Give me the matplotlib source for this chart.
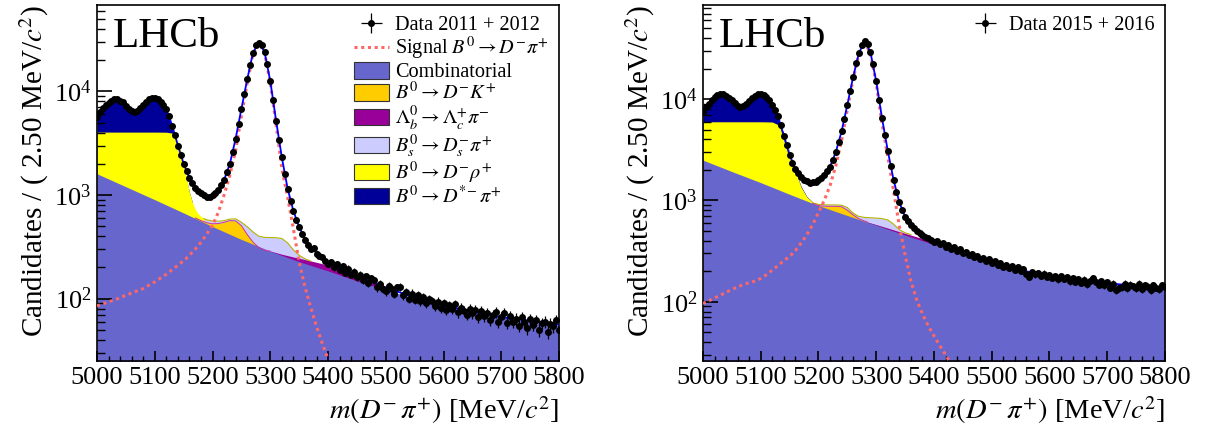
import numpy as np
import matplotlib
matplotlib.use("Agg")
import matplotlib.pyplot as plt
from matplotlib.patches import Patch
from matplotlib.lines import Line2D
from matplotlib.ticker import LogLocator, MultipleLocator, NullFormatter

plt.rcParams['font.family'] = ['Liberation Serif', 'DejaVu Serif']
plt.rcParams['mathtext.fontset'] = 'stix'

# --- data points, one every 5 MeV (counts per 2.5 MeV bin) ---
m_data = np.arange(5000, 5801, 5)

data_run1 = [
    5650, 6250, 6850, 7300, 7750, 8150, 8350, 8400, 8150, 7800,
    7250, 6750, 6450, 6300, 6500, 6850, 7400, 7950, 8350, 8650,
    8600, 8400, 7950, 7450, 6700, 5800, 4650, 3750, 3000, 2450,
    2000, 1700, 1450, 1290, 1160, 1080, 1040, 990, 960, 950,
    1000, 1050, 1120, 1250, 1400, 1650, 2000, 2600, 3500, 4800,
    6800, 9500, 13000, 18000, 23500, 28000, 29500, 28000, 24000, 18500,
    12500, 8200, 5200, 3400, 2300, 1600, 1150, 880, 700, 570,
    490, 420, 370, 330, 300, 310, 270, 255, 250, 230,
    215, 225, 200, 215, 190, 205, 178, 195, 170, 182,
    160, 170, 150, 165, 142, 158, 150, 128, 138, 125,
    118, 132, 125, 112, 128, 130, 108, 115, 100, 112,
    98, 108, 95, 104, 90, 99, 94, 85, 93, 82,
    90, 78, 86, 80, 88, 74, 82, 76, 70, 80,
    72, 78, 66, 76, 68, 73, 62, 70, 74, 60,
    66, 72, 58, 68, 60, 64, 55, 66, 60, 52,
    63, 56, 62, 50, 58, 60, 48, 57, 54, 62,
    50,
]

data_run2 = [
    7500, 8300, 9000, 9700, 10400, 10900, 11200, 11200, 10800, 10300,
    9700, 9100, 8600, 8350, 8500, 8900, 9500, 10200, 10800, 11200,
    11300, 11000, 10500, 9800, 8800, 7900, 6800, 5500, 4300, 3500,
    2800, 2350, 2050, 1850, 1700, 1600, 1550, 1500, 1510, 1530,
    1580, 1670, 1780, 1950, 2150, 2500, 3000, 3800, 4800, 6300,
    8800, 12000, 16500, 22500, 28500, 34500, 37500, 35000, 29000, 22000,
    15000, 9800, 6500, 4400, 3100, 2200, 1600, 1220, 960, 800,
    690, 620, 570, 530, 505, 475, 460, 440, 425, 405,
    390, 400, 370, 380, 345, 360, 330, 345, 315, 330,
    300, 310, 288, 298, 275, 285, 262, 270, 250, 262,
    240, 250, 232, 240, 222, 232, 215, 226, 208, 218,
    200, 210, 188, 176, 198, 186, 193, 180, 190, 176,
    185, 172, 180, 166, 178, 168, 174, 160, 170, 158,
    168, 154, 165, 150, 162, 170, 158, 148, 160, 145,
    156, 138, 150, 130, 136, 140, 150, 136, 148, 142,
    137, 150, 135, 146, 140, 132, 145, 138, 134, 146,
    140,
]

# --- total fit, every 10 MeV ---
m_fit = np.arange(5000, 5801, 10)

total_run1 = [
    5700, 6800, 7800, 8400, 8200, 7300, 6400, 6500, 7400, 8300,
    8600, 8000, 6700, 4700, 3000, 2000, 1450, 1170, 1030, 970,
    1000, 1120, 1400, 2000, 3500, 6800, 13000, 23500, 29500, 24000,
    12500, 5200, 2300, 1150, 700, 490, 380, 315, 275, 245,
    225, 210, 198, 186, 176, 166, 157, 149, 141, 134,
    128, 122, 117, 112, 107, 103, 99, 95, 92, 89,
    86, 83, 81, 79, 77, 75, 73, 71, 69.5, 68,
    66.5, 65, 64, 63, 62, 61, 60, 59, 58, 57,
    56,
]

total_run2 = [
    7600, 9000, 10400, 11200, 10800, 9700, 8600, 8500, 9500, 10800,
    11300, 10500, 8800, 6800, 4300, 2800, 2050, 1700, 1550, 1510,
    1580, 1780, 2150, 3000, 4800, 8800, 16500, 28500, 37500, 29000,
    15000, 6500, 3100, 1600, 960, 690, 570, 500, 455, 420,
    395, 372, 352, 335, 320, 305, 292, 279, 267, 256,
    246, 237, 228, 220, 213, 206, 200, 194, 189, 184,
    180, 176, 172, 169, 166, 163, 160, 158, 156, 154,
    152, 150, 149, 147, 146, 145, 144, 143, 142, 141,
    140,
]

# --- signal B0 -> D- pi+ ---
m_sig1 = np.arange(5000, 5401, 10)
sig_run1 = [
    85, 89, 93, 97, 102, 108, 113, 119, 125, 135,
    145, 158, 172, 190, 210, 232, 262, 300, 350, 420,
    510, 680, 1000, 1550, 2700, 5800, 12000, 22800, 29200, 23600,
    12100, 4800, 1800, 950, 470, 225, 130, 82, 54, 37,
    26,
]
m_sig2 = np.arange(5000, 5431, 10)
sig_run2 = [
    96, 102, 109, 116, 124, 132, 140, 148, 154, 160,
    170, 185, 205, 228, 255, 280, 320, 380, 460, 580,
    760, 1000, 1400, 2200, 3900, 7900, 15800, 27800, 36800, 28300,
    14300, 5800, 2700, 1250, 560, 290, 160, 105, 76, 58,
    46, 37, 30, 24,
]

# --- background components (cumulative top edges of the stack) ---
comb_x = np.arange(5000, 5801, 50)
comb_run1 = [1600, 1200, 900, 670, 495, 372, 287, 227, 185, 148, 122, 100, 84, 74, 66, 60, 55]
comb_run2 = [2500, 1930, 1500, 1150, 890, 710, 570, 455, 368, 300, 244, 205, 178, 162, 151, 144, 139]

dk_x1 = [5170, 5180, 5190, 5200, 5210, 5220, 5230, 5240, 5250, 5260, 5270, 5280, 5290, 5300]
dk_run1 = [600, 565, 540, 527, 530, 545, 565, 562, 505, 415, 350, 312, 292, 287]
dk_x2 = [5190, 5200, 5210, 5220, 5230, 5240, 5250, 5260, 5270, 5280, 5285]
dk_run2 = [936, 890, 878, 875, 875, 868, 800, 720, 660, 625, 612]

lb_x1 = [5290, 5300, 5320, 5340, 5360, 5380, 5400, 5420, 5440, 5460, 5480, 5500]
lb_run1 = [292, 288, 268, 252, 238, 224, 210, 194, 178, 160, 140, 123]
lb_x2 = [5280, 5300, 5320, 5340, 5360, 5380, 5400, 5420, 5440, 5460, 5480, 5500]
lb_run2 = [625, 578, 534, 492, 455, 420, 388, 349, 318, 296, 270, 246]

bs_x1 = [5185, 5190, 5200, 5210, 5220, 5230, 5240, 5250, 5260, 5270,
         5280, 5290, 5300, 5310, 5320, 5330, 5340, 5350, 5360, 5370]
bs_run1 = [590, 575, 562, 558, 565, 585, 588, 545, 495, 440,
           400, 390, 388, 387, 380, 345, 295, 262, 242, 230]
bs_x2 = [5190, 5200, 5210, 5220, 5230, 5240, 5250, 5260, 5270, 5280,
         5290, 5300, 5310, 5320, 5330, 5340, 5350, 5360]
bs_run2 = [945, 915, 905, 903, 903, 898, 850, 750, 695, 680,
           675, 670, 662, 642, 585, 515, 480, 460]

rho_x1 = [5000, 5050, 5100, 5120, 5130, 5135, 5140, 5145, 5150, 5155,
          5160, 5165, 5170, 5175, 5180, 5190, 5200]
rho_run1 = [4040, 4040, 4040, 4030, 3950, 3750, 3350, 2700, 2000, 1450,
            1060, 850, 730, 660, 620, 578, 562]
rho_x2 = [5000, 5050, 5100, 5120, 5130, 5140, 5150, 5160, 5170, 5180, 5190, 5200]
rho_run2 = [5980, 5980, 5980, 5950, 5600, 4500, 3000, 1950, 1350, 1080, 960, 918]

dst_x1 = list(range(5000, 5151, 10)) + [5155, 5160, 5165]
dst_run1 = [5600, 6700, 7700, 8300, 8100, 7200, 6300, 6400, 7300, 8200,
            8500, 7900, 6550, 4500, 2800, 1800, 1400, 1060, 850]
dst_x2 = list(range(5000, 5191, 10))
dst_run2 = [7500, 8850, 10250, 11050, 10650, 9550, 8450, 8350, 9350, 10600,
            11100, 10300, 8600, 6550, 4600, 3000, 1950, 1380, 1090, 965]

labels = ['Combinatorial', r'$B^0\to D^{-}K^{+}$', r'$\mathit{\Lambda}_b^0\to\mathit{\Lambda}_c^{+}\pi^{-}$',
          r'$B_s^0\to D_s^{-}\pi^{+}$', r'$B^0\to D^{-}\rho^{+}$', r'$B^0\to D^{*\!-}\pi^{+}$']
colors = ['#6666cc', '#ffcc00', '#990099', '#ccccff', '#ffff00', '#000099']

fig = plt.figure(figsize=(12.07, 4.28), dpi=100)
ax1 = fig.add_axes([0.0804, 0.1565, 0.3828, 0.8318])
ax2 = fig.add_axes([0.5824, 0.1565, 0.3828, 0.8318])


def draw_panel(ax, data, total, msig, sig, comb, dk, lb, bs, rho, dst, ylim, data_label):
    low = ylim[0] * 0.5
    # stacked components drawn from the top layer down
    layers = [dst, rho, bs, lb, dk, (comb_x, comb)]
    fill_cols = colors[::-1]
    for (x, y), c in zip(layers, fill_cols):
        ax.fill_between(x, y, low, color=c, lw=0, zorder=1)
    ax.plot(bs[0], bs[1], color='#b3b300', lw=0.8, zorder=2)
    ax.plot(dk[0], dk[1], color='#cc3399', lw=0.7, zorder=2)
    ax.plot(msig, sig, ls=(0, (1, 1.2)), color='#ff6666', lw=2.2, zorder=3)
    ax.plot(m_fit, total, color='#0000ff', lw=1.3, zorder=4)
    d = np.array(data, dtype=float)
    eb = ax.errorbar(m_data, d, yerr=np.sqrt(d), xerr=1.25, fmt='o', ms=4.0, color='black',
                     ecolor='black', elinewidth=0.9, capsize=0, zorder=5, label=data_label)
    ax.set_yscale('log')
    ax.set_xlim(5000, 5800)
    ax.set_ylim(*ylim)
    ax.xaxis.set_major_locator(MultipleLocator(100))
    ax.xaxis.set_minor_locator(MultipleLocator(20))
    ax.yaxis.set_major_locator(LogLocator(base=10))
    ax.yaxis.set_minor_locator(LogLocator(base=10, subs=np.arange(2, 10)))
    ax.yaxis.set_minor_formatter(NullFormatter())
    ax.tick_params(axis='x', which='major', direction='in', length=7.5, width=1.2,
                   labelsize=19, pad=4, top=False)
    ax.tick_params(axis='x', which='minor', direction='in', length=3.8, width=1.0, top=False)
    ax.tick_params(axis='y', which='major', direction='in', length=11, width=1.2,
                   labelsize=19, pad=4, right=False)
    ax.tick_params(axis='y', which='minor', direction='in', length=5.5, width=1.0, right=False)
    for s in ax.spines.values():
        s.set_linewidth(1.2)
    ax.set_ylabel(r'Candidates / ( 2.50 MeV/$c^{2}$)', fontsize=21, loc='top')
    ax.yaxis.set_label_coords(-0.1, 1.0)
    ax.set_xlabel(r'$m(D^{-}\,\pi^{+})$ [MeV/$c^{2}$]', fontsize=20.5, loc='right')
    ax.xaxis.set_label_coords(1.0, -0.093)
    ax.text(0.035, 0.965, 'LHCb', transform=ax.transAxes, fontsize=31, va='top', ha='left')
    return eb


eb1 = draw_panel(ax1, data_run1, total_run1, m_sig1, sig_run1, comb_run1,
                 (dk_x1, dk_run1), (lb_x1, lb_run1), (bs_x1, bs_run1),
                 (rho_x1, rho_run1), (dst_x1, dst_run1), (25, 68000), 'Data 2011 + 2012')
eb2 = draw_panel(ax2, data_run2, total_run2, m_sig2, sig_run2, comb_run2,
                 (dk_x2, dk_run2), (lb_x2, lb_run2), (bs_x2, bs_run2),
                 (rho_x2, rho_run2), (dst_x2, dst_run2), (26, 85000), 'Data 2015 + 2016')

sig_handle = Line2D([], [], ls=(0, (1, 1.2)), color='#ff6666', lw=2.2)
patches = [Patch(facecolor=c, edgecolor='#333333', lw=0.8) for c in colors]
leg_kw = dict(loc='upper right', bbox_to_anchor=(1.0, 1.0), frameon=False, fontsize=14.6,
              handlelength=1.75, handleheight=0.85, handletextpad=0.3, labelspacing=0.0,
              borderaxespad=0.2, borderpad=0.3)
ax1.legend([eb1, sig_handle] + patches,
           ['Data 2011 + 2012', r'Signal $B^0\to D^{-}\pi^{+}$'] + labels, **leg_kw)
ax2.legend([eb2], ['Data 2015 + 2016'], **leg_kw)

fig.savefig('out.png', dpi=100)
